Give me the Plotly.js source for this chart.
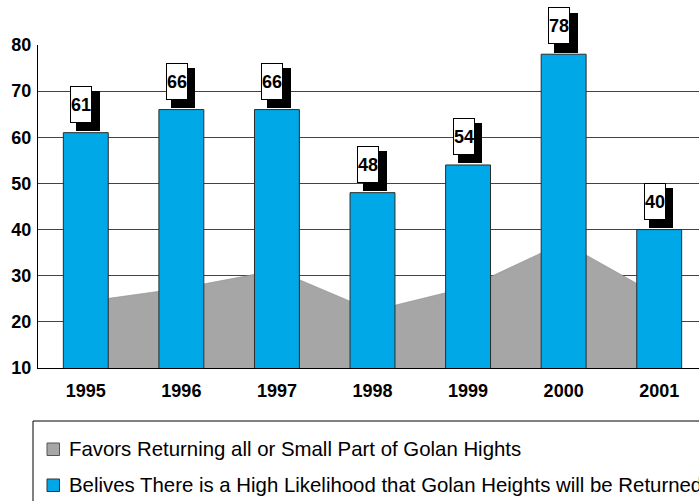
<!DOCTYPE html>
<html>
<head>
<meta charset="utf-8">
<script src="https://cdn.plot.ly/plotly-3.0.1.min.js"></script>
<style>
html, body { margin: 0; padding: 0; overflow: hidden; background: #fff; }
#chart { width: 712px; height: 501px; }
</style>
</head>
<body>
<div id="chart"></div>
<script>
// ---- data ----
const years = ['1995', '1996', '1997', '1998', '1999', '2000', '2001'];
const believes = [61, 66, 66, 48, 54, 78, 40];
const favors = [24.4, 27.3, 31.2, 22.4, 27.5, 37.2, 25.6];
const seriesNames = [
  'Favors Returning all or Small Part of Golan Hights',
  'Belives There is a High Likelihood that Golan Heights will be Returned'
];
const yTicks = [10, 20, 30, 40, 50, 60, 70, 80];

// ---- layout geometry ----
const W = 712, H = 501;
const M = { l: 38, r: 5, t: 45, b: 133 };
const PW = W - M.l - M.r, PH = H - M.t - M.b;
const px = x => (x - M.l) / PW;
const py = y => (H - M.b - y) / PH;

const blue = '#00A8E8';
const gray = '#A6A6A6';
const labelFont = { family: 'Liberation Sans Narrow, Arial Narrow, sans-serif', size: 18, weight: 'bold' };

const traces = [
  {
    type: 'scatter', mode: 'lines', x: years, y: favors, name: seriesNames[0],
    fill: 'tozeroy', fillcolor: gray, line: { color: '#8c8c8c', width: 0.6 },
    showlegend: false, xaxis: 'x', yaxis: 'y'
  },
  {
    type: 'bar', x: years, y: believes, name: seriesNames[1], width: 0.47,
    marker: { color: blue, line: { color: '#2b2b2b', width: 1 } },
    showlegend: false, xaxis: 'x2', yaxis: 'y2'
  }
];

const annotations = [];
const shapes = [];
years.forEach((yr, i) => {
  // black drop shadow behind the value label (blank box, not clipped)
  annotations.push({
    x: i, y: believes[i], xref: 'x2', yref: 'y2', text: ' ',
    showarrow: false, xanchor: 'center', yanchor: 'bottom',
    xshift: 2, yshift: 1.5, width: 24, height: 40,
    bgcolor: '#000', borderwidth: 0, borderpad: 0,
    font: Object.assign({ color: '#000' }, labelFont)
  });
  // white label box
  annotations.push({
    x: i, y: believes[i], xref: 'x2', yref: 'y2', text: String(believes[i]),
    showarrow: false, xanchor: 'center', yanchor: 'bottom',
    xshift: -4.5, yshift: 10, width: 20, height: 35, valign: 'middle',
    bgcolor: '#fff', bordercolor: '#000', borderwidth: 1, borderpad: 0,
    font: Object.assign({ color: '#000' }, labelFont)
  });
});

// manual legend (box, swatches, texts)
shapes.push(
  { type: 'rect', xref: 'paper', yref: 'paper', x0: px(33), x1: px(760), y0: py(421), y1: py(560),
    line: { color: '#000', width: 1 }, fillcolor: 'rgba(0,0,0,0)' },
  { type: 'rect', xref: 'paper', yref: 'paper', x0: px(47), x1: px(59.5), y0: py(443), y1: py(455.5),
    line: { color: '#555', width: 1 }, fillcolor: gray },
  { type: 'rect', xref: 'paper', yref: 'paper', x0: px(47), x1: px(59.5), y0: py(479), y1: py(491.5),
    line: { color: '#333', width: 1 }, fillcolor: blue }
);
annotations.push({
  xref: 'paper', yref: 'paper', x: px(67), y: py(449), text: seriesNames[0], showarrow: false,
  xanchor: 'left', yanchor: 'middle',
  font: { family: 'Liberation Sans, Arial, sans-serif', size: 20.4, color: '#000' }
});
annotations.push({
  xref: 'paper', yref: 'paper', x: px(67), y: py(485), text: seriesNames[1], showarrow: false,
  xanchor: 'left', yanchor: 'middle',
  font: { family: 'Liberation Sans, Arial, sans-serif', size: 20.4, color: '#000' }
});

const tickFont = { family: 'Liberation Sans, Arial, sans-serif', size: 18, color: '#000', weight: 'bold' };

const layout = {
  width: W, height: H,
  margin: M,
  paper_bgcolor: '#fff', plot_bgcolor: '#fff',
  showlegend: false,
  xaxis: {
    type: 'category', range: [-0.5, 6.5], showgrid: false, zeroline: false,
    showline: true, linecolor: '#000', linewidth: 1,
    ticks: 'outside', ticklen: 6, tickcolor: 'rgba(0,0,0,0)',
    tickfont: tickFont
  },
  yaxis: {
    range: [10, 80], tickvals: yTicks, ticktext: yTicks.map(String),
    showgrid: true, gridcolor: '#444', gridwidth: 1, zeroline: false,
    showline: true, linecolor: '#000', linewidth: 1,
    ticks: 'outside', ticklen: 2, tickcolor: 'rgba(0,0,0,0)',
    tickfont: tickFont
  },
  xaxis2: {
    type: 'category', range: [-0.5, 6.5], overlaying: 'x', anchor: 'y2',
    showgrid: false, zeroline: false, showline: false, showticklabels: false
  },
  yaxis2: {
    range: [10, 80], overlaying: 'y', anchor: 'x2',
    showgrid: false, zeroline: false, showline: false, showticklabels: false
  },
  shapes: shapes,
  annotations: annotations
};

Plotly.newPlot('chart', traces, layout, { displayModeBar: false, staticPlot: true });
</script>
</body>
</html>
